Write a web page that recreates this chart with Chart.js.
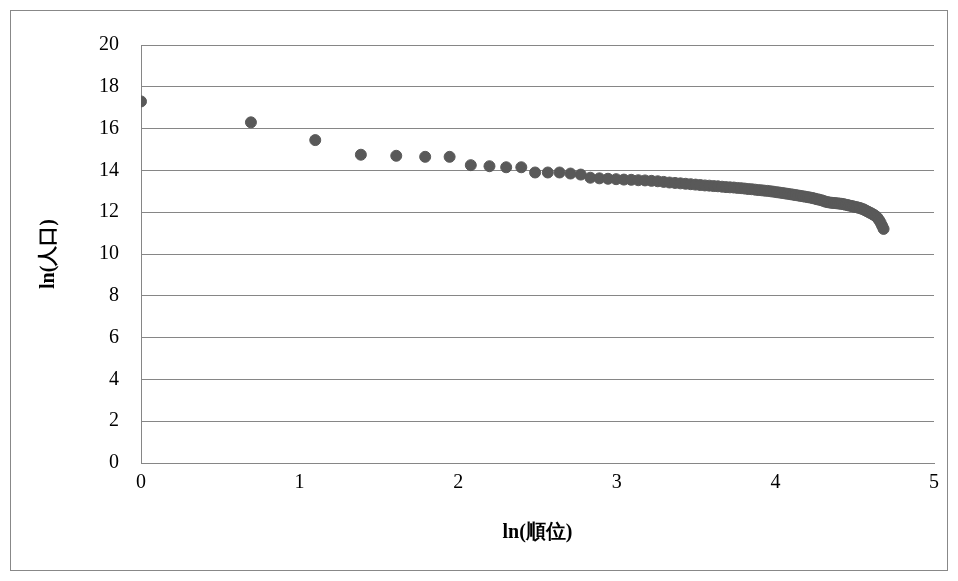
<!DOCTYPE html>
<html><head><meta charset="utf-8">
<script src="https://cdn.jsdelivr.net/npm/chart.js@4/dist/chart.umd.min.js"></script>
<style>
body{margin:0;background:#fff}
#box{position:absolute;left:10px;top:10px;width:938px;height:561px;border:1px solid #888;box-sizing:border-box}
</style></head><body>
<div id="box"><canvas id="c"></canvas></div>
<script>
const ranks = Array.from({length: 108}, (_, i) => i + 1);
const lnPop = [
  17.3,16.3,15.45,14.75,14.7,14.65,14.65,14.25,14.2,14.15,14.15,13.9,13.9,13.9,13.85,13.8,
  13.65,13.62,13.6,13.58,13.56,13.55,13.53,13.52,13.5,
  13.48,13.45,13.42,13.4,13.38,13.36,13.34,13.32,
  13.3,13.28,13.27,13.25,13.24,13.22,13.2,13.19,13.18,
  13.16,13.15,13.13,13.11,13.1,13.08,13.06,13.05,13.03,13.02,13.0,12.98,12.96,
  12.94,12.92,12.9,12.88,12.86,12.84,12.82,12.8,12.78,12.76,12.74,12.72,
  12.7,12.68,12.65,12.62,12.6,12.57,12.54,12.5,12.48,12.46,
  12.45,12.44,12.43,12.42,12.41,12.4,12.38,12.36,
  12.34,12.32,12.3,12.28,12.26,12.24,12.22,12.2,12.17,12.14,
  12.1,12.06,12.02,11.98,11.94,11.9,11.85,11.8,11.72,11.62,11.5,11.35,11.2
];
const points = ranks.map((r, i) => ({x: Math.log(r), y: lnPop[i]}));
const font = {family: "'Liberation Serif','DejaVu Serif',serif", size: 20};

new Chart(document.getElementById("c"), {
  type: "scatter",
  data: {datasets: [{data: points, backgroundColor: "#595959", borderColor: "#595959", pointRadius: 5.5, pointHoverRadius: 5.5}]},
  options: {
    responsive: true, maintainAspectRatio: false, animation: false,
    layout: {padding: {top: 17, right: 13, left: 22, bottom: 21}},
    plugins: {legend: {display: false}, tooltip: {enabled: false}},
    scales: {
      x: {min: 0, max: 5, grid: {display: false, drawTicks: false}, border: {color: "#868686"},
          ticks: {stepSize: 1, color: "#000", font, padding: 8},
          title: {display: true, text: "ln(順位)", color: "#000", font: {...font, weight: "bold"}, padding: {top: 18}}},
      y: {min: 0, max: 20, grid: {color: "#868686", drawTicks: false}, border: {color: "#868686"},
          ticks: {stepSize: 2, color: "#000", font, padding: 22},
          title: {display: true, text: "ln(人口)", color: "#000", font: {...font, weight: "bold"}, padding: {bottom: 16}}}
    }
  }
});
</script></body></html>
